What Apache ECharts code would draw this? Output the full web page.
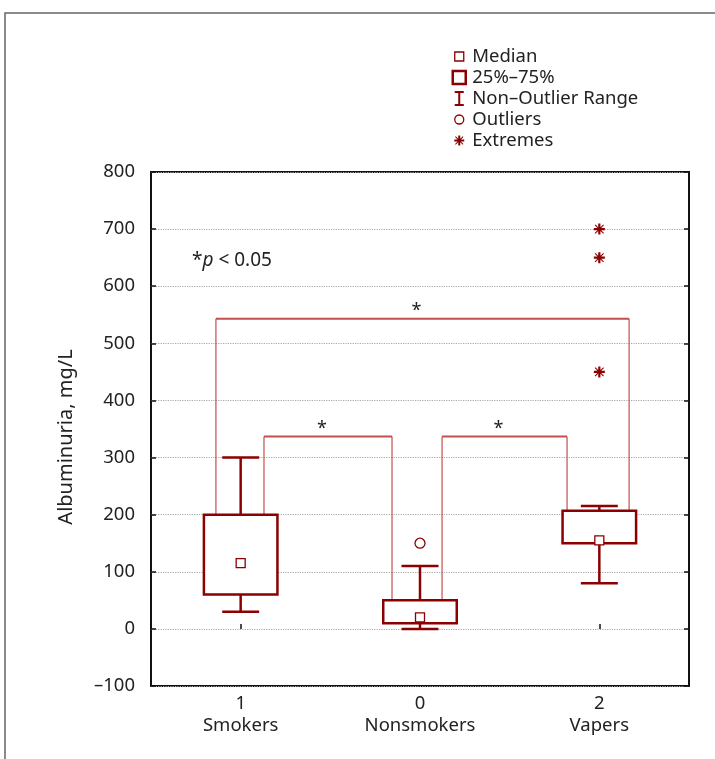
<!DOCTYPE html>
<html>
<head>
<meta charset="utf-8">
<script src="https://cdn.jsdelivr.net/npm/echarts@6/dist/echarts.min.js"></script>
<style>
  html, body { margin: 0; padding: 0; background: #fff; }
  #chart { width: 715px; height: 759px; }
</style>
</head>
<body>
<div id="chart"></div>
<script>
// 分组（代码 + 名称）
const groupCodes = ['1', '0', '2'];
const groupNames = ['Smokers', 'Nonsmokers', 'Vapers'];

// 箱线图统计值
const q1 = [60, 10, 150];
const q3 = [200, 50, 207];
const medians = [115, 20, 155];
const whiskerLow = [30, 0, 80];
const whiskerHigh = [300, 110, 215];

// [组序号, 数值]
const outliers = [[1, 150]];
const extremes = [[2, 700], [2, 650], [2, 450]];

// 显著性括号 [起始组, 结束组, 高度]
const brackets = [[0, 2, 543], [0, 1, 337], [1, 2, 337]];

// y 轴刻度
const yMin = -100;
const yMax = 800;
const yStep = 100;

// 样式
const DARK = '#8b0000';
const BRACKET = '#c0504d';
const FONT = 'Noto Sans';
// 括号两条腿相对组中心的偏移（按类目宽度的比例）
const legOffsets = [[-0.138, 0.166], [0.13, -0.156], [0.123, -0.18]];

const asterisk = 'M7,3h2v10h-2z M3,7h10v2h-10z M4.5,3.8L12.2,11.5L11.5,12.2L3.8,4.5z M11.5,3.8L12.2,4.5L4.5,12.2L3.8,11.5z';
const frame = 'M0,0M16,16';

const boxData = groupCodes.map((c, i) => [i, q1[i], q3[i]]);
const whiskerData = groupCodes.map((c, i) => [i, q1[i], q3[i], whiskerLow[i], whiskerHigh[i]]);
const medianData = medians.map((m, i) => [i, m]);
const bracketData = brackets.map(b => [b[0], b[1], b[2], q3[b[0]], q3[b[1]]]);

function renderBox(params, api) {
  const i = api.value(0);
  const top = api.coord([i, api.value(2)]);
  const bottom = api.coord([i, api.value(1)]);
  const w = api.size([1, 0])[0] * 0.41;
  return {
    type: 'rect',
    shape: { x: top[0] - w / 2, y: top[1], width: w, height: bottom[1] - top[1] },
    style: { fill: '#fff', stroke: DARK, lineWidth: 2.5 }
  };
}

function renderWhisker(params, api) {
  const i = api.value(0);
  const pQ1 = api.coord([i, api.value(1)]);
  const pQ3 = api.coord([i, api.value(2)]);
  const pLow = api.coord([i, api.value(3)]);
  const pHigh = api.coord([i, api.value(4)]);
  const cap = api.size([1, 0])[0] * 0.206 / 2;
  const st = { stroke: DARK, lineWidth: 2.5 };
  const x = pQ1[0];
  return {
    type: 'group',
    children: [
      { type: 'line', shape: { x1: x, y1: pQ3[1], x2: x, y2: pHigh[1] }, style: st },
      { type: 'line', shape: { x1: x - cap, y1: pHigh[1], x2: x + cap, y2: pHigh[1] }, style: st },
      { type: 'line', shape: { x1: x, y1: pQ1[1], x2: x, y2: pLow[1] }, style: st },
      { type: 'line', shape: { x1: x - cap, y1: pLow[1], x2: x + cap, y2: pLow[1] }, style: st }
    ]
  };
}

function renderBracket(params, api) {
  const band = api.size([1, 0])[0];
  const off = legOffsets[params.dataIndex];
  const a = api.coord([api.value(0), api.value(2)]);
  const b = api.coord([api.value(1), api.value(2)]);
  const x1 = a[0] + off[0] * band;
  const x2 = b[0] + off[1] * band;
  const y = a[1];
  const yA = api.coord([api.value(0), api.value(3)])[1];
  const yB = api.coord([api.value(1), api.value(4)])[1];
  return {
    type: 'group',
    children: [
      { type: 'line', shape: { x1: x1, y1: y, x2: x2, y2: y }, style: { stroke: BRACKET, lineWidth: 2 } },
      { type: 'line', shape: { x1: x1, y1: y, x2: x1, y2: yA }, style: { stroke: BRACKET, lineWidth: 1.2 } },
      { type: 'line', shape: { x1: x2, y1: y, x2: x2, y2: yB }, style: { stroke: BRACKET, lineWidth: 1.2 } },
      {
        type: 'text',
        x: (x1 + x2) / 2 - 6, y: y + 1,
        style: { text: '*', fill: '#222', font: '18px "' + FONT + '"', align: 'center', verticalAlign: 'bottom' }
      }
    ]
  };
}

const chart = echarts.init(document.getElementById('chart'));

const option = {
  animation: false,
  backgroundColor: '#fff',
  textStyle: { fontFamily: FONT },
  grid: {
    left: 151, right: 26, top: 172, bottom: 73,
    show: true, borderColor: '#111', borderWidth: 2
  },
  legend: {
    orient: 'vertical',
    left: 450, top: 46, padding: 0,
    itemWidth: 16, itemHeight: 16, itemGap: 0,
    textStyle: { fontSize: 18.5, color: '#222', fontFamily: FONT, lineHeight: 21 },
    selectedMode: false,
    data: [
      { name: 'Median', icon: 'path://' + frame + 'M3.5,3.5h9v9h-9z',
        itemStyle: { color: '#fff', borderColor: DARK, borderWidth: 1.3 } },
      { name: '25%–75%', icon: 'path://' + frame + 'M1.5,1.5h13v13h-13z',
        itemStyle: { color: '#fff', borderColor: DARK, borderWidth: 2.5 } },
      { name: 'Non–Outlier Range', icon: 'path://' + frame + 'M3.5,0.5h9v2h-3.5v11h3.5v2h-9v-2h3.5v-11h-3.5z',
        itemStyle: { color: DARK, borderWidth: 0 } },
      { name: 'Outliers', icon: 'path://' + frame + 'M3.5,8a4.5,4.5 0 1,0 9,0a4.5,4.5 0 1,0 -9,0z',
        itemStyle: { color: '#fff', borderColor: DARK, borderWidth: 1.3 } },
      { name: 'Extremes', icon: 'path://' + frame + asterisk,
        itemStyle: { color: DARK, borderWidth: 0 } }
    ]
  },
  xAxis: {
    type: 'category',
    data: groupCodes,
    axisLine: { show: false },
    axisTick: { show: true, inside: true, alignWithLabel: true, length: 5, lineStyle: { color: '#111', width: 1.5 } },
    axisLabel: {
      margin: 7, fontSize: 18.5, color: '#222', lineHeight: 22,
      formatter: (v, i) => v + '\n' + groupNames[i]
    },
    splitLine: { show: false }
  },
  yAxis: [
    {
      type: 'value', min: yMin, max: yMax, interval: yStep,
      name: 'Albuminuria, mg/L', nameLocation: 'middle', nameGap: 75,
      nameTextStyle: { fontSize: 20, color: '#222', padding: [0, 16, 0, 0] },
      axisLine: { show: false },
      axisTick: { show: true, inside: true, length: 5, lineStyle: { color: '#111', width: 1.5 } },
      axisLabel: { margin: 16, fontSize: 18.5, color: '#222', formatter: v => v < 0 ? '–' + Math.abs(v) : String(v) },
      splitLine: { show: true, lineStyle: { color: '#a8a8a8', width: 1.2, type: 'dotted' } }
    },
    {
      type: 'value', min: yMin, max: yMax, interval: yStep, position: 'right',
      axisLine: { show: false },
      axisTick: { show: true, inside: true, length: 5, lineStyle: { color: '#111', width: 1.5 } },
      axisLabel: { show: false },
      splitLine: { show: false }
    }
  ],
  series: [
    {
      name: 'brackets', type: 'custom', renderItem: renderBracket,
      data: bracketData, z: 1, silent: true
    },
    {
      name: 'Non–Outlier Range', type: 'custom', renderItem: renderWhisker,
      data: whiskerData, z: 2, itemStyle: { color: DARK }
    },
    {
      name: '25%–75%', type: 'custom', renderItem: renderBox,
      data: boxData, z: 3, itemStyle: { color: DARK }
    },
    {
      name: 'Median', type: 'scatter', data: medianData, z: 4,
      symbol: 'rect', symbolSize: 9,
      itemStyle: { color: '#fff', borderColor: DARK, borderWidth: 1.3, opacity: 1 }
    },
    {
      name: 'Outliers', type: 'scatter', data: outliers, z: 4,
      symbol: 'circle', symbolSize: 10,
      itemStyle: { color: '#fff', borderColor: DARK, borderWidth: 1.3, opacity: 1 }
    },
    {
      name: 'Extremes', type: 'scatter', data: extremes, z: 4,
      symbol: 'path://' + asterisk, symbolSize: 11,
      itemStyle: { color: DARK, opacity: 1 }
    }
  ],
  graphic: [
    {
      type: 'polyline', silent: true,
      shape: { points: [[5, 759], [5, 13], [715, 13]] },
      style: { stroke: '#666', lineWidth: 1.5, fill: null }
    },
    {
      type: 'text', left: 192, top: 251, silent: true,
      style: {
        text: '{n|*}{i|p}{n| < 0.05}',
        rich: {
          n: { fontSize: 19, fontFamily: FONT, fill: '#222' },
          i: { fontSize: 19, fontFamily: FONT, fontStyle: 'italic', fill: '#222' }
        }
      }
    }
  ]
};

chart.setOption(option);
</script>
</body>
</html>
